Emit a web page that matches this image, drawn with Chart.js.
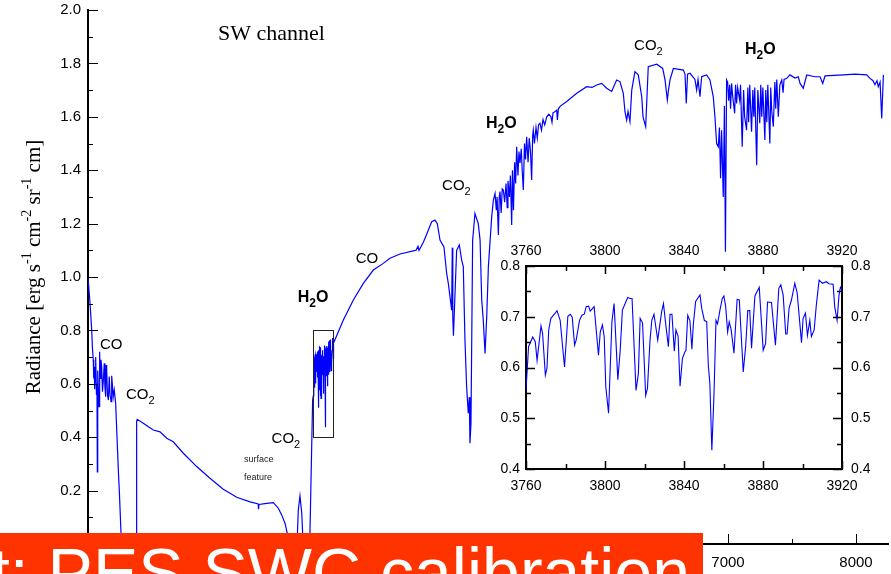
<!DOCTYPE html>
<html><head><meta charset="utf-8">
<script src="https://cdn.jsdelivr.net/npm/chart.js@4.4.1/dist/chart.umd.min.js"></script>
<style>
html,body{margin:0;padding:0;background:#fff;}
#wrap{position:relative;width:891px;height:574px;overflow:hidden;background:#fff;}
#main{position:absolute;left:0;top:0;}
#inset{position:absolute;left:480px;top:236px;}
#banner{position:absolute;left:0;top:533px;width:703px;height:41px;background:#ff3300;overflow:hidden;}
#banner span{position:absolute;right:13px;top:5px;white-space:nowrap;color:#fff;font-family:'Liberation Sans',Arial,sans-serif;font-size:68px;line-height:68px;}
</style>
</head><body>
<div id="wrap">
<canvas id="main" width="891" height="574"></canvas>
<canvas id="inset" width="411" height="266"></canvas>
<div id="banner"><span>t: PES SWC calibration</span></div>
</div>
<script>
// ---------- DATA (wavenumber cm^-1, radiance) ----------
const lowWave = [2000,2016,2029,2034,2041,2045,2049,2052,2055,2058,
  2062,2066,2070,2073,2076,2081,2086,2091,2096,2101,
  2107,2113,2120,2127,2132,2138,2142,2146,2152,2159,
  2166,2172,2180,2185,2190,2197,2205,2216,2237,2245,
  2258,2266,2300,2340,2375,2380,2385,2432,2469,2510,
  2563,2615,2666,2745,2849,2953,3057,3162,3266,3330,
  3332,3336,3396,3448,3487,3513,3539,3557,3570,3600,
  3633,3643,3656,3670,3677,3688,3727,3734,3747,3755];
const lowRad = [1.00,0.90,0.80,0.74,0.69,0.62,0.664,0.58,0.614,0.68,
  0.70,0.56,0.60,0.27,0.65,0.58,0.514,0.72,0.62,0.69,
  0.664,0.57,0.614,0.677,0.59,0.552,0.67,0.652,0.56,0.539,
  0.627,0.56,0.533,0.63,0.60,0.55,0.577,0.527,0.277,0.196,
  0.04,0,0,0,0,0.46,0.467,0.452,0.44,0.427,
  0.42,0.396,0.383,0.34,0.29,0.246,0.205,0.175,0.158,0.15,
  0.13,0.148,0.152,0.155,0.134,0.109,0.078,0.04,0,0,
  0,0.127,0.18,0.116,0.04,0,0,0.04,0.35,0.54];

const insetWave = [3760,3761.3,3763.4,3764.7,3765.6,3767.6,3768.4,3769.8,3770.6,3771.5,
  3772.6,3774.8,3775.7,3777.3,3779.5,3781.2,3782.4,3783.4,3784.6,3785.4,
  3787.1,3788.3,3789.5,3790.5,3791.7,3792.5,3794.5,3796.7,3797.6,3798.7,
  3799.6,3800.4,3801.8,3803.5,3804.6,3805.6,3806.5,3807.7,3808.8,3810.2,
  3811.5,3812.7,3813.7,3815.7,3816.9,3817.8,3819,3820.6,3821.5,3822.8,
  3823.7,3824.8,3826.7,3827.4,3828.7,3829.6,3830.7,3832.1,3832.9,3833.9,
  3835.1,3835.9,3837,3838,3839.2,3840.5,3841,3841.9,3843,3844,
  3844.7,3845.9,3847.2,3848.1,3849,3850.3,3851.5,3852.3,3853.1,3854.1,
  3855.2,3856.2,3857,3858.2,3859.4,3860.2,3861.1,3862.1,3862.9,3863.9,
  3865.3,3866.9,3868,3870,3871.2,3872.3,3873.3,3874.2,3875.9,3878.1,
  3880.1,3881.3,3882.3,3884.3,3886.3,3888,3889,3890.2,3891.5,3892.2,
  3893.2,3894.4,3896.1,3897.3,3899.5,3900.3,3901.5,3902.5,3903.7,3904.5,
  3905.9,3907,3908.4,3910.1,3912.1,3913.4,3915.5,3916.3,3917.5,3918.5,
  3919.2,3920];
const insetRad = [0.555,0.641,0.66,0.651,0.614,0.682,0.667,0.585,0.598,0.674,
  0.697,0.707,0.712,0.693,0.601,0.701,0.705,0.699,0.644,0.654,
  0.693,0.703,0.705,0.72,0.721,0.711,0.72,0.624,0.67,0.684,
  0.661,0.562,0.51,0.69,0.726,0.647,0.576,0.634,0.713,0.726,
  0.738,0.736,0.736,0.555,0.588,0.697,0.688,0.545,0.559,0.654,
  0.693,0.705,0.654,0.674,0.71,0.726,0.687,0.641,0.705,0.705,
  0.632,0.674,0.662,0.563,0.618,0.631,0.634,0.703,0.692,0.636,
  0.684,0.73,0.738,0.743,0.716,0.693,0.69,0.605,0.568,0.437,
  0.549,0.693,0.686,0.713,0.736,0.741,0.72,0.67,0.69,0.674,
  0.628,0.734,0.733,0.591,0.641,0.712,0.712,0.638,0.741,0.758,
  0.634,0.647,0.729,0.728,0.644,0.756,0.763,0.743,0.666,0.666,
  0.717,0.733,0.766,0.747,0.649,0.697,0.707,0.663,0.693,0.661,
  0.674,0.723,0.772,0.766,0.769,0.765,0.764,0.72,0.693,0.743,
  0.758,0.753];

const highWave = [3995,4073,4151,4229,4307,4359,4438,4541,4563,4578,
  4586,4620,4646,4685,4711,4729,4750,4781,4802,4815,
  4841,4846,4850,4855,4880,4901,4919,4932,4945,4958,
  4971,4979,4984,4992,5005,5010,5023,5049,5063,5076,
  5088,5102,5115,5128,5154,5167,5180,5190,5196,5206,
  5213,5219,5228,5236,5245,5255,5266,5275,5281,5292,
  5300,5310,5316,5324,5333,5341,5349,5359,5367,5375,
  5385,5392,5401,5410,5418,5427,5438,5447,5457,5466,
  5474,5479,5488,5500,5510,5520,5531,5543,5555,5568,
  5584,5600,5617,5625,5633,5650,5662,5667,5675,5690,
  5740,5818,5896,5938,5974,6013,6052,6091,6130,6156,
  6182,6195,6208,6219,6234,6248,6273,6299,6326,6336,
  6357,6377,6443,6490,6508,6526,6535,6547,6573,6651,
  6664,6674,6684,6703,6742,6755,6766,6781,6794,6833,
  6859,6885,6898,6911,6924,6933,6942,6950,6963,6972,
  6980,6989,6997,7005,7013,7020,7028,7036,7052,7059,
  7067,7075,7091,7098,7111,7122,7130,7145,7155,7161,
  7170,7184,7194,7202,7209,7224,7233,7248,7256,7264,
  7272,7288,7295,7303,7311,7327,7334,7342,7354,7366,
  7373,7381,7393,7405,7420,7430,7438,7459,7484,7523,
  7549,7563,7588,7615,7680,7719,7740,7758,7901,7992,
  8084,8109,8133,8148,8164,8174,8188,8201,8214];
const highRad = [0.839,0.914,0.976,1.026,1.051,1.07,1.086,1.098,1.10,1.115,
  1.10,1.13,1.16,1.207,1.213,1.20,1.138,1.113,1.014,0.976,
  0.876,1.11,0.85,0.78,1.10,1.12,1.064,1.039,0.764,0.589,
  0.49,0.55,0.377,0.45,1.139,1.164,1.238,1.20,1.139,0.914,
  0.839,0.714,0.851,1.039,1.226,1.288,1.313,1.25,1.30,1.157,
  1.30,1.32,1.24,1.33,1.326,1.28,1.35,1.26,1.36,1.30,
  1.38,1.195,1.40,1.25,1.43,1.35,1.488,1.38,1.47,1.427,
  1.48,1.40,1.326,1.50,1.44,1.525,1.43,1.52,1.47,1.363,
  1.53,1.55,1.50,1.56,1.52,1.57,1.576,1.55,1.59,1.57,
  1.60,1.61,1.60,1.58,1.615,1.62,1.625,1.588,1.63,1.64,
  1.657,1.688,1.713,1.71,1.719,1.725,1.707,1.695,1.738,1.732,
  1.688,1.62,1.588,1.62,1.582,1.70,1.769,1.757,1.675,1.60,
  1.563,1.788,1.797,1.781,1.738,1.663,1.70,1.738,1.781,1.775,
  1.76,1.65,1.76,1.763,1.74,1.70,1.74,1.675,1.75,1.757,
  1.738,1.675,1.60,1.50,1.488,1.56,1.37,1.55,1.30,1.64,
  1.095,1.738,1.73,1.66,1.72,1.63,1.725,1.68,1.613,1.72,
  1.65,1.71,1.663,1.72,1.488,1.70,1.60,1.55,1.71,1.58,
  1.72,1.544,1.70,1.60,1.71,1.419,1.70,1.576,1.72,1.60,
  1.71,1.513,1.70,1.58,1.72,1.50,1.71,1.62,1.563,1.73,
  1.63,1.74,1.60,1.72,1.738,1.69,1.74,1.744,1.757,1.745,
  1.75,1.725,1.707,1.757,1.75,1.75,1.725,1.753,1.757,1.76,
  1.757,1.744,1.735,1.72,1.735,1.713,1.73,1.594,1.757];

// tick labels
const mainXTicks = [2000,3000,4000,5000,6000,7000,8000];
const mainYTicks = [0,0.2,0.4,0.6,0.8,1.0,1.2,1.4,1.6,1.8,2.0];
const insetXTicks = [3760,3800,3840,3880,3920];
const insetYTicks = [0.4,0.5,0.6,0.7,0.8];

// annotations (species labels, anchored in data units)
const annText = ['CO','CO_2','CO_2','H_2O','CO','CO_2','H_2O','CO_2','H_2O'];
const annWave = [2094,2297,3434,3638,4091,4766,5109,6266,7133];
const annRad  = [0.730,0.543,0.377,0.908,1.054,1.326,1.558,1.850,1.835];
const annBold = [false,false,false,true,false,false,true,false,true];
const zoomBoxWave = [3758,3918];
const zoomBoxRad = [0.4,0.8];

// ---------- helpers ----------
const SANS = "'Liberation Sans', Arial, sans-serif";
const SERIF = "'Liberation Serif', 'Times New Roman', serif";

function toPts(w, r){ return w.map((v,i)=>({x:v, y:r[i]})); }
const mainPts = toPts(lowWave,lowRad).concat(toPts(insetWave,insetRad), toPts(highWave,highRad));
const insetPts = toPts(insetWave,insetRad);

function range(a,b,s){ const out=[]; for(let v=a; v<=b+1e-9; v+=s) out.push(+v.toFixed(4)); return out; }

function drawTicks(chart, id, vals, len, side){
  const sc = chart.scales[id], ca = chart.chartArea, ctx = chart.ctx;
  ctx.beginPath();
  vals.forEach(v=>{
    const p = Math.round(sc.getPixelForValue(v))+0.5;
    if (side==='left'){ ctx.moveTo(ca.left,p); ctx.lineTo(ca.left+len,p); }
    if (side==='right'){ ctx.moveTo(ca.right,p); ctx.lineTo(ca.right-len,p); }
    if (side==='bottom'){ ctx.moveTo(p,ca.bottom); ctx.lineTo(p,ca.bottom-len); }
    if (side==='top'){ ctx.moveTo(p,ca.top); ctx.lineTo(p,ca.top+len); }
  });
  ctx.stroke();
}

function drawChem(ctx, str, x, y, size, bold){
  const w = bold ? 'bold ' : '';
  let cx = x;
  for (let i=0;i<str.length;i++){
    let ch = str[i], sub=false;
    if (ch==='_'){ sub=true; ch=str[++i]; }
    ctx.font = w + (sub? Math.round(size*0.72):size) + 'px ' + SANS;
    ctx.fillText(ch, cx, sub? y+Math.round(size*0.3) : y);
    cx += ctx.measureText(ch).width;
  }
}

const mainDecor = {
  id:'mainDecor',
  afterDraw(chart){
    const ctx = chart.ctx, xs = chart.scales.x, ys = chart.scales.y;
    ctx.save();
    ctx.strokeStyle='#000'; ctx.lineWidth=1;
    drawTicks(chart,'y',mainYTicks,10,'left');
    drawTicks(chart,'y',range(0.1,1.9,0.2),5,'left');
    drawTicks(chart,'x',mainXTicks,10,'bottom');
    drawTicks(chart,'x',range(2500,7500,1000),5,'bottom');
    // zoom box
    const bx0 = xs.getPixelForValue(zoomBoxWave[0]), bx1 = xs.getPixelForValue(zoomBoxWave[1]);
    const by0 = ys.getPixelForValue(zoomBoxRad[1]), by1 = ys.getPixelForValue(zoomBoxRad[0]);
    ctx.strokeStyle='#222'; ctx.lineWidth=1;
    ctx.strokeRect(Math.round(bx0)+0.5, Math.round(by0)+0.5, Math.round(bx1-bx0), Math.round(by1-by0));
    // species labels
    ctx.fillStyle='#000'; ctx.textBaseline='alphabetic'; ctx.textAlign='left';
    annText.forEach((t,i)=>{
      drawChem(ctx, t, xs.getPixelForValue(annWave[i]), ys.getPixelForValue(annRad[i]), annBold[i]?16:15, annBold[i]);
    });
    ctx.font = '9px ' + SANS; ctx.fillStyle='#222';
    ctx.fillText('surface', xs.getPixelForValue(3219), ys.getPixelForValue(0.307));
    ctx.fillText('feature', xs.getPixelForValue(3219), ys.getPixelForValue(0.240));
    ctx.fillStyle='#000';
    ctx.font = '22px ' + SERIF;
    ctx.fillText('SW channel', xs.getPixelForValue(3016), ys.getPixelForValue(1.888));
    // y axis title
    ctx.translate(33, 267); ctx.rotate(-Math.PI/2);
    const parts = [['Radiance [erg s',0],['-1',1],[' cm',0],['-2',1],[' sr',0],['-1',1],[' cm]',0]];
    let total=0;
    parts.forEach(p=>{ ctx.font=(p[1]?'14px ':'21px ')+SERIF; total+=ctx.measureText(p[0]).width; });
    let cx=-total/2;
    parts.forEach(p=>{ ctx.font=(p[1]?'14px ':'21px ')+SERIF; ctx.fillText(p[0], cx, p[1]? -2 : 7); cx+=ctx.measureText(p[0]).width; });
    ctx.restore();
  }
};

const insetDecor = {
  id:'insetDecor',
  afterDraw(chart){
    const ctx = chart.ctx;
    ctx.save(); ctx.strokeStyle='#000'; ctx.lineWidth=1.5;
    drawTicks(chart,'x',insetXTicks,8,'bottom');
    drawTicks(chart,'x',insetXTicks,8,'top');
    drawTicks(chart,'x',range(3780,3900,40),5,'bottom');
    drawTicks(chart,'x',range(3780,3900,40),5,'top');
    drawTicks(chart,'y',insetYTicks,9,'left');
    drawTicks(chart,'y',insetYTicks,9,'right');
    drawTicks(chart,'y',range(0.45,0.75,0.1),5,'left');
    drawTicks(chart,'y',range(0.45,0.75,0.1),5,'right');
    ctx.restore();
  }
};

Chart.defaults.font.family = SANS;
Chart.defaults.color = '#000';

function setTicks(vals){ return s => { s.ticks = vals.map(v=>({value:v})); }; }

new Chart(document.getElementById('main'), {
  type:'line',
  data:{datasets:[{data:mainPts, borderColor:'#0000ff', borderWidth:1.2, pointRadius:0, tension:0, fill:false}]},
  options:{
    responsive:false, animation:false, devicePixelRatio:1,
    layout:{padding:{top:10,right:3,left:0,bottom:0}, autoPadding:false},
    plugins:{legend:{display:false}, tooltip:{enabled:false}},
    scales:{
      x:{type:'linear', min:2000, max:8250, afterBuildTicks:setTicks(mainXTicks),
         grid:{display:false, drawTicks:false}, border:{display:true, color:'#000', width:2},
         ticks:{color:'#000', font:{size:15}, padding:10, maxRotation:0, autoSkip:false, callback:v=>String(v)},
         afterFit:s=>{s.height=30; s.paddingLeft=0; s.paddingRight=0;}},
      y:{type:'linear', min:0, max:2, afterBuildTicks:setTicks(mainYTicks),
         grid:{display:false, drawTicks:false}, border:{display:true, color:'#000', width:2},
         ticks:{color:'#000', font:{size:15}, padding:7, callback:v=>v.toFixed(1)},
         afterFit:s=>{s.width=88; s.paddingTop=0; s.paddingBottom=0;}}
    }
  },
  plugins:[mainDecor]
});

new Chart(document.getElementById('inset'), {
  type:'line',
  data:{datasets:[{data:insetPts, borderColor:'#0000ff', borderWidth:1.1, pointRadius:0, tension:0, fill:false, xAxisID:'x', yAxisID:'y'}]},
  options:{
    responsive:false, animation:false, devicePixelRatio:1,
    layout:{padding:0, autoPadding:false},
    plugins:{legend:{display:false}, tooltip:{enabled:false}},
    scales:{
      x:{type:'linear', position:'bottom', min:3760, max:3920, afterBuildTicks:setTicks(insetXTicks),
         grid:{display:false, drawTicks:false}, border:{display:true,color:'#000',width:2},
         ticks:{font:{size:14}, padding:9, maxRotation:0, autoSkip:false, callback:v=>String(v)},
         afterFit:s=>{s.height=33;}},
      x2:{type:'linear', position:'top', min:3760, max:3920, afterBuildTicks:setTicks(insetXTicks),
         grid:{display:false, drawTicks:false}, border:{display:true,color:'#000',width:2},
         ticks:{font:{size:14}, padding:6, maxRotation:0, autoSkip:false, callback:v=>String(v)},
         afterFit:s=>{s.height=30;}},
      y:{type:'linear', position:'left', min:0.4, max:0.8, afterBuildTicks:setTicks(insetYTicks),
         grid:{display:false, drawTicks:false}, border:{display:true,color:'#000',width:2},
         ticks:{font:{size:14}, padding:6, callback:v=>v.toFixed(1)},
         afterFit:s=>{s.width=46;}},
      y2:{type:'linear', position:'right', min:0.4, max:0.8, afterBuildTicks:setTicks(insetYTicks),
         grid:{display:false, drawTicks:false}, border:{display:true,color:'#000',width:2},
         ticks:{font:{size:14}, padding:9, callback:v=>v.toFixed(1)},
         afterFit:s=>{s.width=49;}}
    }
  },
  plugins:[insetDecor]
});
</script>
</body></html>
